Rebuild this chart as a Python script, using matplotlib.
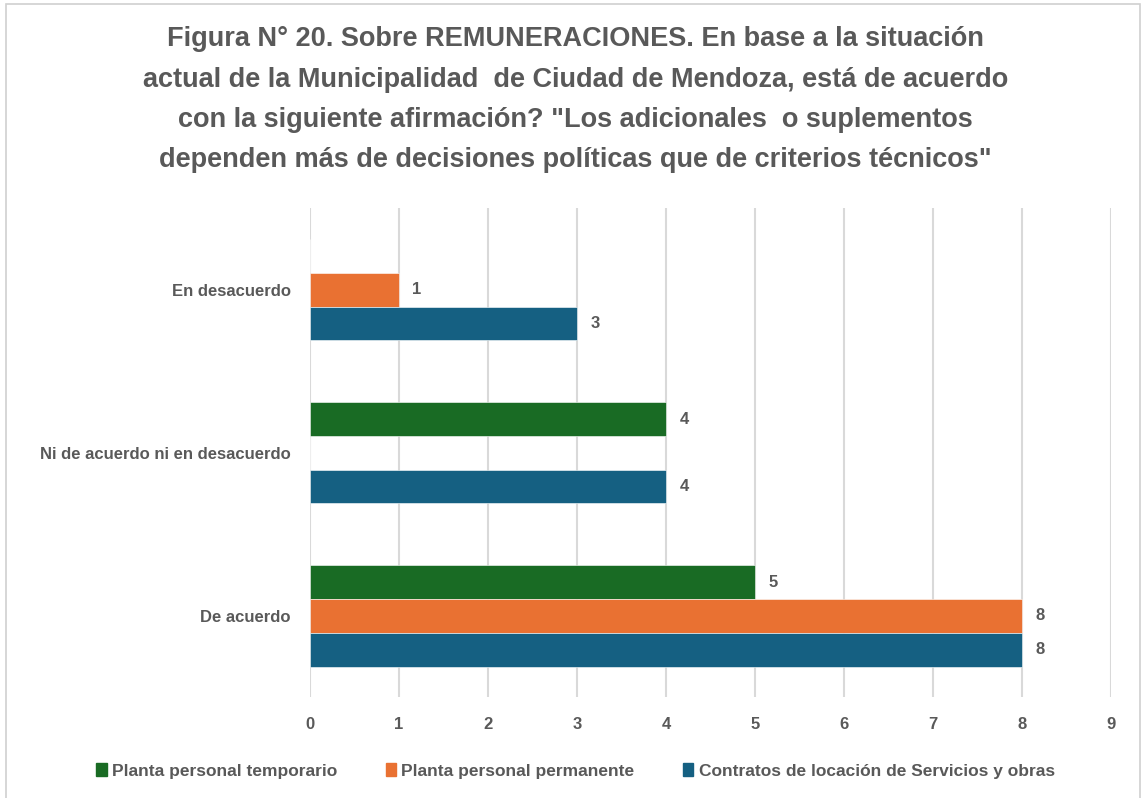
import numpy as np
import matplotlib
matplotlib.use("Agg")
import matplotlib.pyplot as plt
from matplotlib.patches import Rectangle

# fuentes: estrecha si existe, si no Liberation Sans
plt.rcParams["font.family"] = ["Liberation Sans Narrow", "Liberation Sans", "DejaVu Sans"]

# datos (de abajo hacia arriba)
categorias = ["De acuerdo", "Ni de acuerdo ni en desacuerdo", "En desacuerdo"]
series = ["Planta personal temporario", "Planta personal permanente",
          "Contratos de locación de Servicios y obras"]
temporario = [5, 4, np.nan]
permanente = [8, np.nan, 1]
contratos = [8, 4, 3]
ticks_x = [0, 1, 2, 3, 4, 5, 6, 7, 8, 9]

colores = ["#196B24", "#E97132", "#156082"]
gris = "#595959"

titulo = ("Figura N° 20. Sobre REMUNERACIONES. En base a la situación\n"
          "actual de la Municipalidad  de Ciudad de Mendoza, está de acuerdo\n"
          "con la siguiente afirmación? \"Los adicionales  o suplementos\n"
          "dependen más de decisiones políticas que de criterios técnicos\"")

fig = plt.figure(figsize=(11.44, 7.98), dpi=100)
ax = fig.add_axes([0.271, 0.126, 0.700, 0.613])

y = np.arange(len(categorias))
h = 0.207
valores = [temporario, permanente, contratos]
offsets = [h, 0, -h]
for vals, off, col, nombre in zip(valores, offsets, colores, series):
    v = np.array(vals, dtype=float)
    ax.barh(y + off, np.nan_to_num(v), height=h, color=col, label=nombre,
            edgecolor="white", linewidth=0.4, zorder=3)
    for yi, vi in zip(y, v):
        if not np.isnan(vi):
            ax.text(vi + 0.15, yi + off, f"{int(vi)}", va="center", ha="left",
                    fontsize=12, fontweight="bold", color=gris,
                    family=["Liberation Sans", "DejaVu Sans"])

ax.set_xlim(0, 9)
ax.set_ylim(-0.5, 2.5)
ax.set_xticks(ticks_x)
ax.set_yticks(y)
ax.set_yticklabels(categorias)
ax.grid(axis="x", color="#d9d9d9", linewidth=1.5, zorder=0)
ax.set_axisbelow(True)
for s in ax.spines.values():
    s.set_visible(False)
ax.tick_params(length=0)
ax.tick_params(axis="x", pad=14)
ax.tick_params(axis="y", pad=14)
for lab in ax.get_xticklabels():
    lab.set_fontfamily(["Liberation Sans", "DejaVu Sans"])
    lab.set_fontweight("bold")
    lab.set_color(gris)
    lab.set_fontsize(12)
for lab in ax.get_yticklabels():
    lab.set_fontfamily(["Liberation Sans", "DejaVu Sans"])
    lab.set_fontweight("bold")
    lab.set_color(gris)
    lab.set_fontsize(12)

fig.text(0.503, 0.875, titulo, ha="center", va="center", fontsize=19.5,
         fontweight="bold", color=gris, linespacing=1.72)

handles = [Rectangle((0, 0), 1, 1, color=c) for c in colores]
leg = fig.legend(handles, series, loc="center", bbox_to_anchor=(0.503, 0.034),
                 ncol=3, frameon=False, handlelength=0.6, handleheight=0.8,
                 handletextpad=0.3, columnspacing=2.8, fontsize=12.5)
for t in leg.get_texts():
    t.set_color(gris)
    t.set_fontweight("bold")

# marco del grafico
fig.patches.append(Rectangle((6 / 1144, -0.01), 1134 / 1144, 1.005, transform=fig.transFigure,
                             fill=False, edgecolor="#d0d0d0", linewidth=1.2))

fig.savefig("out.png", dpi=100)
